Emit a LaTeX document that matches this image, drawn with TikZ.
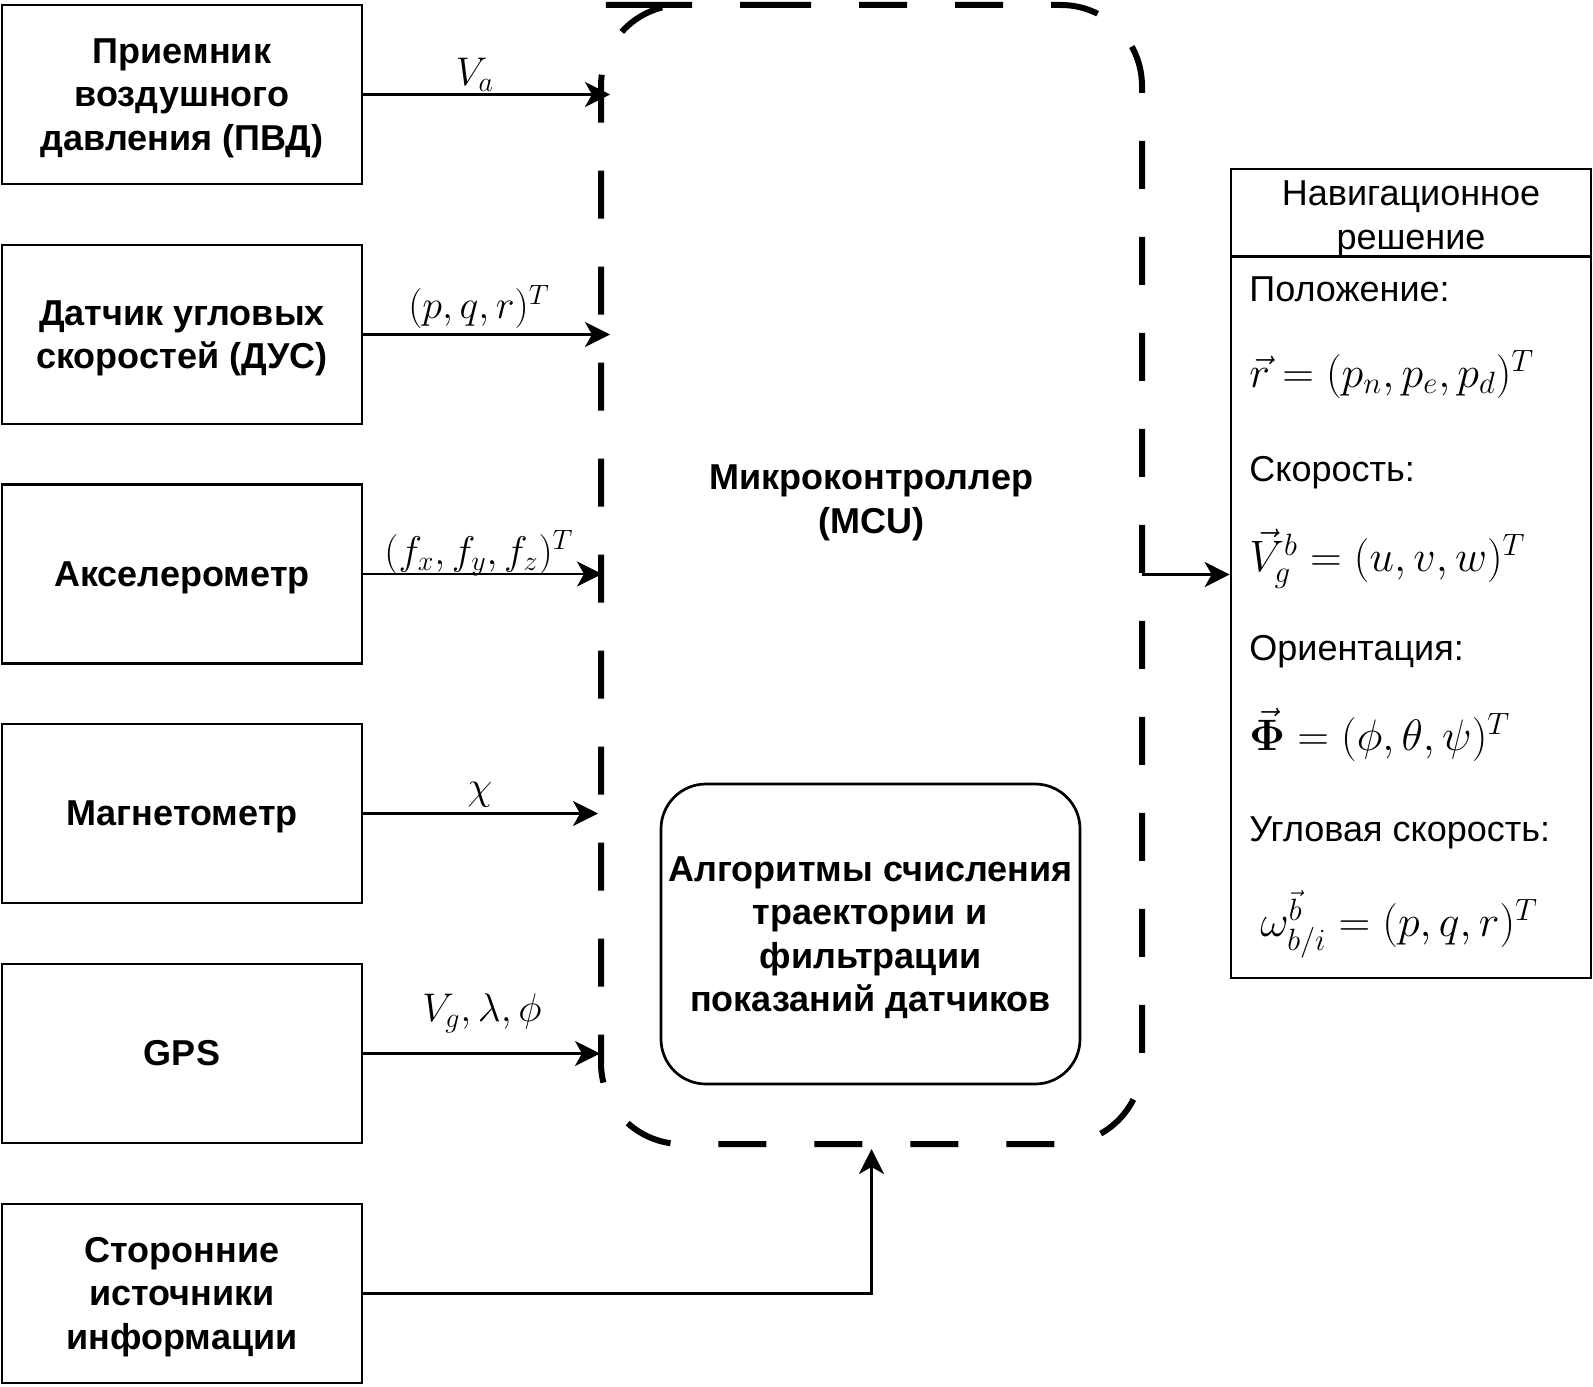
\RequirePackage{fix-cm}
\documentclass[tikz,border=0pt]{standalone}
\usepackage{amsmath}
\usepackage{fontspec}
\setmainfont{Liberation Sans}
\usetikzlibrary{arrows.meta}
\newcommand\bxfont{\fontsize{18}{21.6}\selectfont\bfseries}
\newcommand\nvfont{\fontsize{18}{21.6}\selectfont}
\tikzset{
  htone/.style={text height=17pt, text depth=4.6pt},
  httwo/.style={text height=38.6pt, text depth=4.6pt},
  htthree/.style={text height=60.2pt, text depth=4.6pt},
  htfour/.style={text height=81.8pt, text depth=4.6pt},
  sensor/.style={draw, line width=1.35pt, minimum width=180pt, minimum height=89.5pt, align=center, inner sep=0pt, font=\bxfont},
  algbox/.style={draw, line width=1.35pt, rounded corners=22.5pt, minimum width=209.5pt, minimum height=150pt, align=center, inner sep=0pt, font=\bxfont},
  mculine/.style={line width=3pt, dash pattern=on 24pt off 24pt, rounded corners=40.5pt},
  arr/.style={line width=1.35pt, -{Stealth[length=12.5pt,width=12.5pt,inset=3.5pt]}},
  lab/.style={inner sep=0pt, font=\fontsize{20}{24}\selectfont},
  navtxt/.style={inner sep=0pt, font=\nvfont, text height=13pt, text depth=0pt},
  navmath/.style={inner sep=0pt, font=\fontsize{22}{26}\selectfont},
}
\begin{document}
\begin{tikzpicture}[x=0.5pt,y=-0.5pt]
\useasboundingbox (0,0) rectangle (1593,1386);
% sensors
\node[sensor, htthree] (pvd) at (182,94.5) {Приемник\\воздушного\\давления (ПВД)};
\node[sensor, httwo] (dus) at (182,334.5) {Датчик угловых\\скоростей (ДУС)};
\node[sensor, htone] (acc) at (182,574) {Акселерометр};
\node[sensor, htone] (mag) at (182,813.5) {Магнетометр};
\node[sensor, htone] (gps) at (182,1053.5) {GPS};
\node[sensor, htthree] (ext) at (182,1293.5) {Сторонние\\источники\\информации};
% MCU
\node[minimum width=270.5pt, minimum height=569.5pt, inner sep=0pt, outer sep=0pt] (mcu) at (871.5,574.5) {};
\draw[mculine] (682,5) -- (1142,5) -- (1142,1144) -- (601,1144) -- (601,5) -- cycle;
\node[inner sep=0pt, align=center, font=\bxfont, httwo] (mcut) at (871.5,499) {Микроконтроллер\\(MCU)};
\node[algbox, htfour] (alg) at (870.5,934) {Алгоритмы счисления\\траектории и\\фильтрации\\показаний датчиков};
% navigation solution
\node[draw, line width=1.35pt, minimum width=180pt, minimum height=404.5pt, inner sep=0pt] (nav) at (1411,573.5) {};
\draw[line width=1.35pt] ([yshift=-44.5pt]nav.north west) -- ([yshift=-44.5pt]nav.north east);
\node[inner sep=0pt, align=center, font=\nvfont, httwo] (navh) at (1411,215) {Навигационное\\решение};
\node[navtxt, anchor=west] (t1) at (1249,288) {Положение:};
\node[navmath, anchor=west] (f1) at (1249,374) {$\vec{r} = (p_n, p_e, p_d)^T$};
\node[navtxt, anchor=west] (t2) at (1249,468) {Скорость:};
\node[navmath, anchor=west] (f2) at (1249,559) {$\vec{V}_g^b = (u, v, w)^T$};
\node[navtxt, anchor=west] (t3) at (1249,647) {Ориентация:};
\node[navmath, anchor=west] (f3) at (1249,735) {$\vec{\boldsymbol\Phi} = (\phi, \theta, \psi)^T$};
\node[navtxt, anchor=west] (t4) at (1249,828) {Угловая скорость:};
\node[navmath, anchor=west] (f4) at (1260,924) {$\omega_{b/i}^{\vec{b}} = (p, q, r)^T$};
% inputs
\coordinate (i1) at (610,94.5);
\coordinate (i2) at (610,334.5);
\coordinate (i3) at (602,574);
\coordinate (i4) at (598,813.5);
\coordinate (i5) at (600,1053.5);
\coordinate (i6) at (871.5,1149);
\draw[arr] (pvd.east) -- (i1);
\draw[arr] (dus.east) -- (i2);
\draw[arr] (acc.east) -- (i3);
\draw[arr] (mag.east) -- (i4);
\draw[arr] (gps.east) -- (i5);
\draw[arr] (ext.east) -| (i6);
\draw[arr] (mcu.east) -- (mcu.east -| nav.west);
\node[lab] (l1) at (475,75) {$V_a$};
\node[lab] (l2) at (479,307) {$(p,q,r)^T$};
\node[lab] (l3) at (479,553) {$(f_x,f_y,f_z)^T$};
\node[lab] (l4) at (480,795) {$\chi$};
\node[lab] (l5) at (482,1013) {$V_g,\lambda,\phi$};
\end{tikzpicture}
\end{document}
